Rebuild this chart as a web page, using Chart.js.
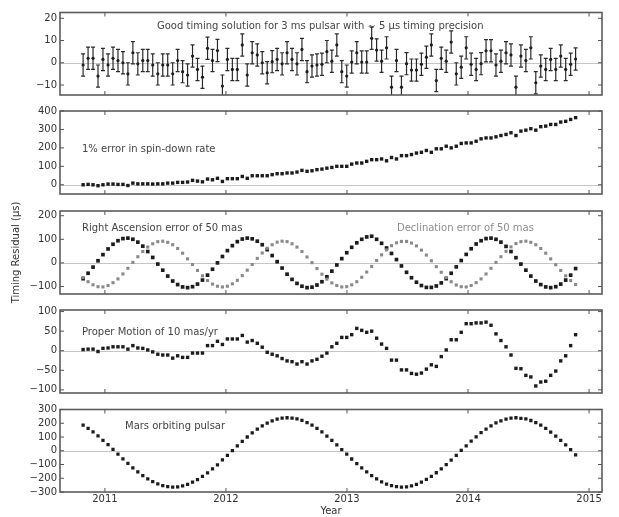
<!DOCTYPE html>
<html><head><meta charset="utf-8">
<script src="https://cdn.jsdelivr.net/npm/chart.js@4.4.0/dist/chart.umd.min.js"></script>
<style>
html,body{margin:0;padding:0;background:#fff;}
#wrap{position:relative;width:619px;height:517px;background:#fff;}
#wrap canvas{position:absolute;left:0;top:0;}
</style></head><body>
<div id="wrap">
<canvas id="c1" width="619" height="517"></canvas>
<canvas id="c2" width="619" height="517"></canvas>
<canvas id="c3" width="619" height="517"></canvas>
<canvas id="c4" width="619" height="517"></canvas>
<canvas id="c5" width="619" height="517"></canvas>
</div>
<script>
// Observation epochs (decimal year)
const years = [2010.820,2010.861,2010.902,2010.943,2010.984,2011.026,2011.067,2011.108,2011.149,2011.190,
2011.231,2011.272,2011.313,2011.354,2011.395,2011.437,2011.478,2011.519,2011.560,2011.601,
2011.642,2011.683,2011.724,2011.765,2011.806,2011.848,2011.889,2011.930,2011.971,2012.012,
2012.053,2012.094,2012.135,2012.176,2012.217,2012.259,2012.300,2012.341,2012.382,2012.423,
2012.464,2012.505,2012.546,2012.587,2012.628,2012.670,2012.711,2012.752,2012.793,2012.834,
2012.875,2012.916,2012.957,2012.998,2013.039,2013.081,2013.122,2013.163,2013.204,2013.245,
2013.286,2013.327,2013.368,2013.409,2013.450,2013.492,2013.533,2013.574,2013.615,2013.656,
2013.697,2013.738,2013.779,2013.820,2013.861,2013.903,2013.944,2013.985,2014.026,2014.067,
2014.108,2014.149,2014.190,2014.231,2014.272,2014.314,2014.355,2014.396,2014.437,2014.478,
2014.519,2014.560,2014.601,2014.642,2014.683,2014.725,2014.766,2014.807,2014.848,2014.889];

const xTickYears = [2011, 2012, 2013, 2014, 2015];

// Panel 1: good timing solution (us), error bar +/- 5 us
const goodResiduals = [-1,2,2,-6,1.5,-1,2,1,0,-5, 4.5,-0.5,1,1,-1,-5,-1,-1,-5,1,
-4,-5.5,3,-3,-6.5,6.5,1,5.5,-10.5,1.5, -3,-3,8,-5.5,4.5,3.5,0,-4.5,0.5,1.5,
-0.5,4.5,1.5,-0.5,6,-4,-1.5,-1,-0.7,5, 0.7,8,-4,-6,0.3,4.5,0.3,0.3,11,5.7,
0.7,6.7,-11,1,-11,-0.4,-3.3,-3.3,-0.7,2.5, 8,-8,2,0.7,9.3,-5,-2,6.7,-0.7,-3,
-0.4,5.4,5.4,-1,0.7,4.5,3.5,-11,3,1, 6.7,-9,-1.5,-3,1.5,-3,3,-3,-0.7,1.7];
const goodErrorBar = 5;

// Panel 2: 1% error in spin-down rate
const spinDown = [0,2,0,-5,0,4,4,2,2,-4, 9,5,5,5,4,5,5,9,9,13,
13,15,24,20,16,31,27,35,18,33, 33,33,45,35,49,49,49,49,55,60,
60,64,64,69,78,73,76,82,85,90, 94,100,100,100,112,118,118,127,136,136,
140,130,148,140,158,158,164,172,176,186, 176,195,195,209,200,209,224,227,227,236,
249,254,254,260,267,273,282,267,291,296, 304,296,315,318,327,327,340,344,354,364];

// Panel 3: position errors
const raError = [-67,-44,-18,9,35,59,79,94,103,105, 100,88,71,48,23,-5,-31,-56,-77,-92,
-102,-105,-101,-90,-73,-52,-27,0,27,52, 73,90,101,105,102,92,77,56,31,5,
-22,-48,-70,-87,-99,-105,-103,-94,-80,-59, -35,-9,18,43,66,85,100,110,113,100,
83,63,40,14,-13,-40,-63,-82,-96,-104, -104,-98,-85,-67,-44,-17,10,36,60,80,
94,103,105,100,88,70,48,22,-5,-31, -56,-77,-92,-102,-105,-101,-90,-73,-52,-24];
const decError = [-62,-80,-93,-101,-102,-96,-84,-68,-47,-23, 2,26,48,67,81,90,92,87,77,61,
41,17,-7,-32,-55,-75,-90,-99,-102,-99, -89,-74,-54,-31,-7,19,42,62,77,88,
92,90,81,67,48,25,1,-24,-48,-69, -85,-96,-102,-101,-93,-80,-61,-39,-15,10,
34,55,73,85,91,91,84,72,54,33, 9,-16,-40,-62,-80,-94,-101,-102,-96,-84,
-68,-47,-23,2,26,49,68,82,90,92, 87,77,61,41,17,-8,-32,-55,-75,-92];

// Panel 4: proper motion of 10 mas/yr
const properMotion = [3,4,4,-2,6,7,10,10,10,4, 13,7,6,2,-3,-9,-11,-11,-19,-13,
-17,-17,-6,-6,-6,13,13,24,16,30, 30,30,39,22,26,19,9,-4,-9,-13,
-20,-26,-28,-34,-28,-34,-26,-22,-14,-6, 10,19,34,34,41,57,52,47,50,32,
17,6,-24,-24,-49,-49,-58,-60,-57,-47, -36,-40,-15,2,28,28,47,69,69,71,
71,73,65,43,26,10,-11,-45,-46,-63, -67,-90,-80,-78,-63,-52,-26,-13,13,41];

// Panel 5: Mars orbiting pulsar
const marsOrbit = [186,163,137,108,76,44,10,-25,-59,-92, -124,-153,-181,-205,-225,-241,-253,-261,-264,-262,
-256,-245,-229,-210,-187,-161,-132,-102,-67,-33, 1,35,68,100,130,157,181,201,218,230,
237,240,238,232,221,205,186,163,137,107, 76,43,9,-25,-60,-93,-125,-154,-181,-205,
-226,-242,-254,-261,-264,-262,-256,-245,-229,-209, -186,-160,-132,-101,-68,-33,2,36,70,101,
131,157,181,202,218,230,237,240,236,231, 220,205,186,162,136,107,76,42,8,-30];

const yTicks1 = [-10, 0, 10, 20];
const yTicks2 = [0, 100, 200, 300, 400];
const yTicks3 = [-100, 0, 100, 200];
const yTicks4 = [-100, -50, 0, 50, 100];
const yTicks5 = [-300, -200, -100, 0, 100, 200, 300];

Chart.defaults.font.family = "'DejaVu Sans', 'Bitstream Vera Sans', sans-serif";
Chart.defaults.font.size = 10;
Chart.defaults.color = '#333';

const X_MIN = 2010.629, X_MAX = 2015.107;
const DARK = '#1c1c1c', GREY = '#8a8a8a';

function toPoints(vals) { return years.map((x, i) => ({ x: x, y: vals[i] })); }

function panelPlugin(cfg) {
  return {
    id: 'panel' + cfg.id,
    beforeDatasetsDraw(chart) {
      const ctx = chart.ctx, a = chart.chartArea, x = chart.scales.x, y = chart.scales.y;
      ctx.save();
      ctx.beginPath(); ctx.rect(a.left, a.top, a.right - a.left, a.bottom - a.top); ctx.clip();
      const y0 = Math.round(y.getPixelForValue(0)) + 0.5;
      ctx.strokeStyle = '#c6c6c6'; ctx.lineWidth = 1;
      ctx.beginPath(); ctx.moveTo(a.left, y0); ctx.lineTo(a.right, y0); ctx.stroke();
      if (cfg.err) {
        ctx.strokeStyle = '#2a2a2a'; ctx.lineWidth = 1.2;
        ctx.beginPath();
        cfg.err.vals.forEach((v, i) => {
          const px = x.getPixelForValue(years[i]);
          const t = y.getPixelForValue(v + cfg.err.size);
          const b = y.getPixelForValue(v - cfg.err.size);
          ctx.moveTo(px, t); ctx.lineTo(px, b);
          ctx.moveTo(px - 2, t); ctx.lineTo(px + 2, t);
          ctx.moveTo(px - 2, b); ctx.lineTo(px + 2, b);
        });
        ctx.stroke();
      }
      ctx.restore();
    },
    afterDraw(chart) {
      const ctx = chart.ctx, a = chart.chartArea, x = chart.scales.x, y = chart.scales.y;
      ctx.save();
      ctx.strokeStyle = '#5c5c5c'; ctx.lineWidth = 1.6;
      ctx.strokeRect(a.left, a.top, a.right - a.left, a.bottom - a.top);
      ctx.lineWidth = 1; ctx.strokeStyle = '#555';
      ctx.beginPath();
      cfg.yTicks.forEach(v => {
        const py = y.getPixelForValue(v);
        ctx.moveTo(a.left, py); ctx.lineTo(a.left + 4, py);
        ctx.moveTo(a.right, py); ctx.lineTo(a.right - 4, py);
      });
      xTickYears.forEach(v => {
        const px = x.getPixelForValue(v);
        ctx.moveTo(px, a.top); ctx.lineTo(px, a.top + 4);
        ctx.moveTo(px, a.bottom); ctx.lineTo(px, a.bottom - 4);
      });
      ctx.stroke();
      ctx.font = "10px 'DejaVu Sans', sans-serif";
      ctx.textAlign = 'left'; ctx.textBaseline = 'middle';
      cfg.texts.forEach(t => {
        ctx.fillStyle = t.color;
        ctx.fillText(t.text, a.left + t.dx, a.top + t.dy);
      });
      ctx.restore();
    }
  };
}

function makePanel(cfg) {
  const showX = !!cfg.showX;
  new Chart(document.getElementById(cfg.id), {
    type: 'scatter',
    data: {
      datasets: cfg.series.map(s => ({
        data: toPoints(s.vals),
        pointStyle: s.style, pointRadius: s.r,
        backgroundColor: s.color, borderColor: s.color, borderWidth: 0,
        showLine: false
      }))
    },
    options: {
      responsive: false, animation: false,
      events: [],
      layout: { padding: { top: cfg.boxTop, bottom: showX ? 0 : 517 - cfg.boxBottom, left: 0, right: 17 } },
      plugins: { legend: { display: false }, tooltip: { enabled: false } },
      scales: {
        x: {
          type: 'linear', min: X_MIN, max: X_MAX, display: showX,
          grid: { display: false, drawTicks: false }, border: { display: false },
          afterBuildTicks: s => { s.ticks = xTickYears.map(v => ({ value: v })); },
          ticks: { padding: 1, maxRotation: 0, autoSkip: false, color: '#333', callback: v => String(v) },
          title: { display: showX, text: 'Year', color: '#333', padding: { top: 0, bottom: 0 } },
          afterFit: s => { s.height = showX ? 25 : 0; }
        },
        y: {
          type: 'linear', min: cfg.yMin, max: cfg.yMax,
          grid: { display: false, drawTicks: false }, border: { display: false },
          afterBuildTicks: s => { s.ticks = cfg.yTicks.map(v => ({ value: v })); },
          ticks: { padding: 3, autoSkip: false, color: '#333', callback: v => String(v).replace('-', '\u2212') },
          title: { display: !!cfg.yTitle, text: cfg.yTitle || '', color: '#333', padding: { top: 10, bottom: 0 } },
          afterFit: s => { s.width = 60; }
        }
      }
    },
    plugins: [panelPlugin(cfg)]
  });
}

makePanel({ id: 'c1', boxTop: 12.5, boxBottom: 95, yMin: -14.5, yMax: 22.6, yTicks: yTicks1,
  series: [{ vals: goodResiduals, style: 'circle', r: 1.6, color: DARK }],
  err: { vals: goodResiduals, size: goodErrorBar },
  texts: [{ text: 'Good timing solution for 3 ms pulsar with \u223c 5 \u03bcs timing precision', dx: 97, dy: 13.5, color: '#444' }] });

makePanel({ id: 'c2', boxTop: 111, boxBottom: 194, yMin: -50, yMax: 400, yTicks: yTicks2,
  series: [{ vals: spinDown, style: 'rect', r: 2.4, color: DARK }],
  texts: [{ text: '1% error in spin-down rate', dx: 22, dy: 38, color: '#444' }] });

makePanel({ id: 'c3', boxTop: 211, boxBottom: 294, yMin: -132, yMax: 220, yTicks: yTicks3,
  yTitle: 'Timing Residual (\u03bcs)',
  series: [{ vals: decError, style: 'rect', r: 2.2, color: GREY },
           { vals: raError, style: 'rect', r: 2.6, color: DARK }],
  texts: [{ text: 'Right Ascension error of 50 mas', dx: 22, dy: 17.3, color: '#444' },
          { text: 'Declination error of 50 mas', dx: 337, dy: 17.3, color: '#8c8c8c' }] });

makePanel({ id: 'c4', boxTop: 310, boxBottom: 393, yMin: -108, yMax: 104, yTicks: yTicks4,
  series: [{ vals: properMotion, style: 'rect', r: 2.4, color: DARK }],
  texts: [{ text: 'Proper Motion of 10 mas/yr', dx: 22, dy: 22, color: '#444' }] });

makePanel({ id: 'c5', boxTop: 409.5, boxBottom: 492, yMin: -300, yMax: 300, yTicks: yTicks5, showX: true,
  series: [{ vals: marsOrbit, style: 'rect', r: 2.3, color: DARK }],
  texts: [{ text: 'Mars orbiting pulsar', dx: 65, dy: 16.5, color: '#444' }] });
</script>
</body></html>
